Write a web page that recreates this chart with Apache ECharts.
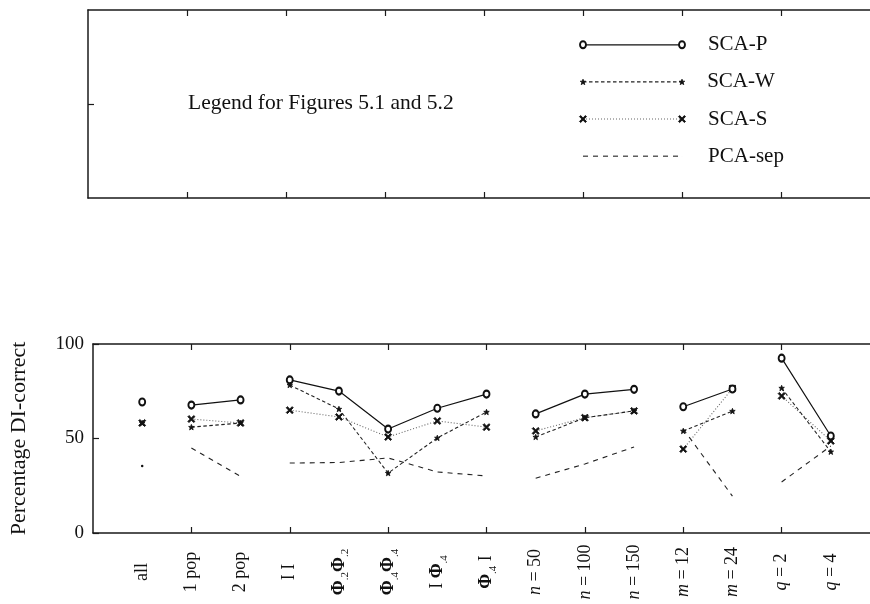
<!DOCTYPE html>
<html>
<head>
<meta charset="utf-8">
<script src="https://cdn.jsdelivr.net/npm/echarts@6/dist/echarts.min.js"></script>
<style>
  html, body { margin: 0; padding: 0; background: #fff; overflow: hidden; }
  /* the plot frames run on past the right edge of the page */
  #chart { width: 880px; height: 604px; }
</style>
</head>
<body>
<div id="chart"></div>
<script>
// Conditions along the horizontal axis; lines join only within a group.
const categories = ['all', '1 pop', '2 pop', 'I I', 'Φ.2Φ.2', 'Φ.4Φ.4', 'I Φ.4', 'Φ.4 I',
                    'n = 50', 'n = 100', 'n = 150', 'm = 12', 'm = 24', 'q = 2', 'q = 4'];
const groups = ['all', 'pop', 'pop', 'cov', 'cov', 'cov', 'cov', 'cov',
                'n', 'n', 'n', 'm', 'm', 'q', 'q'];

// Percentage DI-correct for each method
const scaP   = [69.3, 67.7, 70.4, 81.0, 75.1, 55.0, 66.0, 73.5, 63.0, 73.5, 76.0, 66.8, 76.2, 92.5, 51.3];
const scaW   = [58.2, 56.0, 58.2, 78.3, 65.6, 31.7, 50.3, 64.0, 50.8, 61.0, 64.6, 54.0, 64.5, 76.7, 43.0];
const scaS   = [58.2, 60.3, 58.2, 65.0, 61.4, 50.8, 59.3, 56.0, 54.0, 61.0, 64.6, 44.4, 76.5, 72.5, 48.7];
const pcaSep = [35.4, 45.0, 30.0, 37.0, 37.3, 39.7, 32.3, 30.2, 29.0, 36.5, 45.5, 55.0, 19.5, 27.0, 46.0];

const yTickValues = [0, 50, 100];

const SERIF = '"Liberation Serif", "DejaVu Serif", "Times New Roman", serif';
const INK = '#111';

// Line and marker styles of the four methods
const crossPath = 'path://M0,1.6L1.6,0L5,3.4L8.4,0L10,1.6L6.6,5L10,8.4L8.4,10L5,6.6L1.6,10L0,8.4L3.4,5Z';
const starPath = 'path://M5,0L6.3,3.3L9.8,3.4L7.1,5.6L8.1,9.1L5,7.1L1.9,9.1L2.9,5.6L0.2,3.4L3.7,3.3Z';
const methods = [
  { name: 'PCA-sep', values: pcaSep, line: { type: [5, 5], width: 1.1, color: '#222' },
    symbol: 'circle', size: 0, border: 0, z: 2 },
  { name: 'SCA-S', values: scaS, line: { type: [1, 2], width: 1.1, color: '#666' },
    symbol: crossPath, size: 7, border: 0.9, z: 3 },
  { name: 'SCA-W', values: scaW, line: { type: [3.5, 2.5], width: 1.1, color: '#222' },
    symbol: starPath, size: 5.5, border: 0.8, z: 4 },
  { name: 'SCA-P', values: scaP, line: { type: 'solid', width: 1.2, color: '#111' },
    symbol: 'emptyCircle', size: [6, 7], border: 1.4, z: 5 }
];
const legendOrder = ['SCA-P', 'SCA-W', 'SCA-S', 'PCA-sep'];
const legendRows = [1.63, 1.235, 0.84, 0.445];
const legendSpan = [10, 12];

const xMax = categories.length + 1;
const xTickValues = [];
for (let v = 2; v < xMax; v += 2) xTickValues.push(v);
const xLabelValues = categories.map((c, i) => i + 1);

// Points of one method, with a break wherever the group changes
function toSeriesData(values) {
  const out = [];
  values.forEach((v, i) => {
    if (i > 0 && groups[i] !== groups[i - 1]) out.push([i + 0.5, '-']);
    out.push([i + 1, v]);
  });
  return out;
}

function isIsolated(x) {
  const i = x - 1;
  if (!Number.isInteger(i)) return false;
  return groups[i - 1] !== groups[i] && groups[i + 1] !== groups[i];
}

// Category text → rich text (Φ with subscripts, italic variables)
function richLabel(text) {
  return text.split(/(Φ\.\d)/).filter(Boolean).map(part => {
    let m = part.match(/^Φ(\.\d)$/);
    if (m) return '{phi|Φ}{sub|' + m[1] + '}';
    m = part.match(/^([nmq])( = .*)$/);
    if (m) return '{it|' + m[1] + '}{rm|' + m[2] + '}';
    return '{rm|' + part + '}';
  }).join('');
}

const frameLine = { show: true, onZero: false, lineStyle: { color: '#1a1a1a', width: 1.5 } };
const innerTick = (values) => ({
  show: true, inside: true, length: 6, customValues: values,
  lineStyle: { color: '#1a1a1a', width: 1.2 }
});

function xAxisFor(gridIndex, position, withLabels) {
  return {
    type: 'value', gridIndex, position, min: 0, max: xMax,
    axisLine: frameLine, axisTick: innerTick(xTickValues), splitLine: { show: false },
    axisLabel: withLabels ? {
      show: true, customValues: xLabelValues, rotate: 90, align: 'center',
      verticalAlign: 'middle', margin: 39,
      formatter: v => richLabel(categories[v - 1] || ''),
      rich: {
        rm:  { fontFamily: SERIF, fontSize: 18, color: INK, lineHeight: 24, verticalAlign: 'middle' },
        it:  { fontFamily: SERIF, fontSize: 18, fontStyle: 'italic', color: INK, lineHeight: 24, verticalAlign: 'middle' },
        phi: { fontFamily: SERIF, fontSize: 18, fontWeight: 'bold', color: INK, lineHeight: 24, verticalAlign: 'middle' },
        sub: { fontFamily: SERIF, fontSize: 11, color: INK, lineHeight: 11, verticalAlign: 'bottom' }
      }
    } : { show: false }
  };
}

function yAxisFor(gridIndex, position, opts) {
  return Object.assign({
    type: 'value', gridIndex, position,
    axisLine: frameLine, splitLine: { show: false }, axisLabel: { show: false }
  }, opts);
}

const markerStyle = m => ({ color: INK, borderColor: INK, borderWidth: m.border });

const dataSeries = methods.map(m => ({
  type: 'line', name: m.name, xAxisIndex: 2, yAxisIndex: 2, z: m.z,
  data: toSeriesData(m.values),
  connectNulls: false, showSymbol: true, showAllSymbol: true,
  symbol: m.symbol,
  symbolSize: m.size === 0 ? (val => (isIsolated(val[0]) ? 2.5 : 0)) : m.size,
  lineStyle: m.line,
  itemStyle: markerStyle(m),
  emphasis: { disabled: true }, silent: true
}));

const legendSeries = legendOrder.map((name, k) => {
  const m = methods.find(s => s.name === name);
  const y = legendRows[k];
  return {
    type: 'line', name: name + ' key', xAxisIndex: 0, yAxisIndex: 0, z: m.z,
    data: [[legendSpan[0], y], { value: [legendSpan[1], y], label: { show: true } }],
    symbol: m.symbol, symbolSize: m.size === 0 ? 0.1 : m.size, showSymbol: true,
    lineStyle: m.line,
    itemStyle: markerStyle(m),
    label: {
      show: false, position: 'right', distance: m.size === 0 ? 26 : 22,
      formatter: () => name, fontFamily: SERIF, fontSize: 21, color: INK
    },
    emphasis: { disabled: true }, silent: true
  };
});

const chart = echarts.init(document.getElementById('chart'), null, { renderer: 'canvas' });
chart.setOption({
  backgroundColor: '#fff',
  animation: false,
  grid: [
    { left: 88, right: 0, top: 10, height: 188 },
    { left: 88, right: 0, top: 344, height: 189 }
  ],
  xAxis: [
    xAxisFor(0, 'bottom', false),
    xAxisFor(0, 'top', false),
    xAxisFor(1, 'bottom', true),
    xAxisFor(1, 'top', false)
  ],
  yAxis: [
    yAxisFor(0, 'left', { min: 0, max: 2, axisTick: innerTick([1]) }),
    yAxisFor(0, 'right', { min: 0, max: 2, axisTick: innerTick([1]) }),
    yAxisFor(1, 'left', {
      min: 0, max: 100, interval: 50, axisTick: innerTick(yTickValues),
      axisLabel: { show: true, customValues: yTickValues, margin: 9,
                   fontFamily: SERIF, fontSize: 19, color: INK },
      name: 'Percentage DI-correct', nameLocation: 'middle', nameRotate: 90, nameGap: 63,
      nameTextStyle: { fontFamily: SERIF, fontSize: 22, color: INK }
    }),
    yAxisFor(1, 'right', { min: 0, max: 100, axisTick: innerTick(yTickValues) })
  ],
  graphic: [{
    type: 'text', left: 188, top: 92,
    style: { text: 'Legend for Figures 5.1 and 5.2', fontFamily: SERIF, fontSize: 21.5, fill: INK }
  }],
  series: dataSeries.concat(legendSeries)
});
</script>
</body>
</html>
